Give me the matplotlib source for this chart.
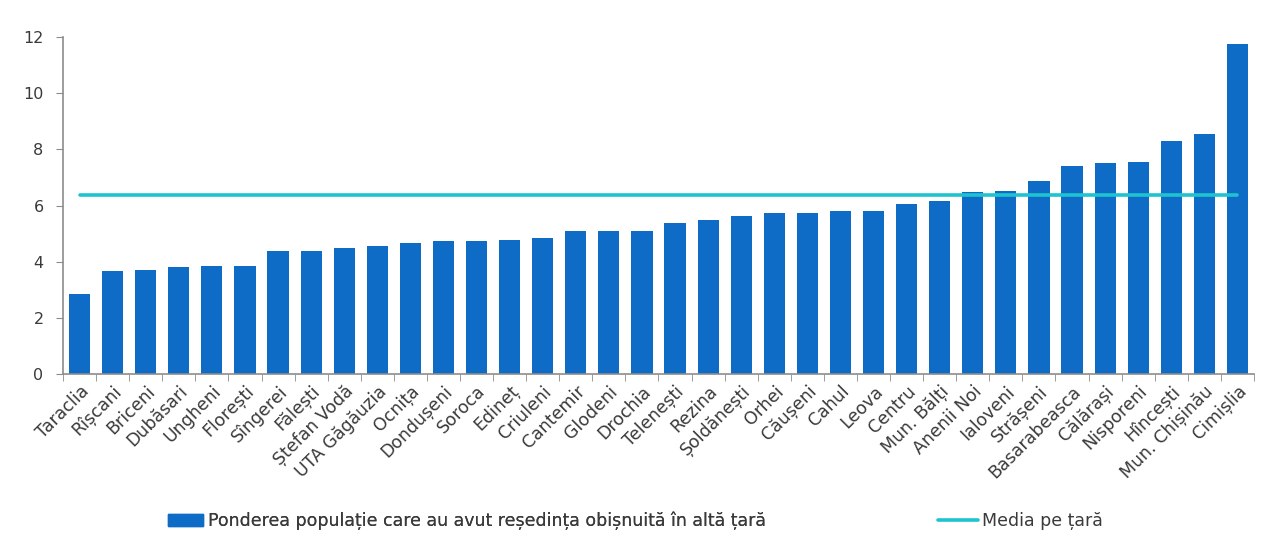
import matplotlib
matplotlib.use("Agg")
import matplotlib.pyplot as plt
from matplotlib.patches import Patch
from matplotlib.lines import Line2D
import numpy as np

categories = ["Taraclia", "Rîșcani", "Briceni", "Dubăsari", "Ungheni", "Florești",
              "Sîngerei", "Fălești", "Ștefan Vodă", "UTA Găgăuzia", "Ocnița",
              "Dondușeni", "Soroca", "Edineț", "Criuleni", "Cantemir", "Glodeni",
              "Drochia", "Telenești", "Rezina", "Șoldănești", "Orhei", "Căușeni",
              "Cahul", "Leova", "Centru", "Mun. Bălți", "Anenii Noi", "Ialoveni",
              "Strășeni", "Basarabeasca", "Călărași", "Nisporeni", "Hîncești",
              "Mun. Chișinău", "Cimișlia"]
values = [2.85, 3.66, 3.71, 3.81, 3.86, 3.86, 4.39, 4.39, 4.50, 4.56, 4.67,
          4.73, 4.73, 4.77, 4.83, 5.09, 5.09, 5.09, 5.37, 5.48, 5.63, 5.74, 5.74,
          5.80, 5.80, 6.06, 6.16, 6.48, 6.53, 6.86, 7.40, 7.51, 7.55, 8.31,
          8.53, 11.75]
mean_value = 6.37
yticks = [0, 2, 4, 6, 8, 10, 12]

bar_label = "Ponderea populație care au avut reședința obișnuită în altă țară"
line_label = "Media pe țară"

bar_color = "#0F6CC6"
line_color = "#1FC3D0"
axis_color = "#8C8C8C"
text_color = "#3A3A3A"

plt.rcParams['font.family'] = ['DejaVu Sans']

fig = plt.figure(figsize=(12.8, 5.54), dpi=100)
ax = fig.add_axes([63/1280, 1-374/554, (1254-63)/1280, (374-37)/554])

x = np.arange(len(categories))
ax.bar(x, values, width=0.64, color=bar_color, zorder=2)
ax.plot([x[0], x[-1]], [mean_value, mean_value], color=line_color, lw=2.6,
        solid_capstyle='round', zorder=3)

ax.set_xlim(-0.5, len(categories) - 0.5)
ax.set_ylim(0, 12)
ax.set_yticks(yticks)
ax.set_yticklabels([str(v) for v in yticks], fontsize=11.5, color=text_color)

ax.set_xticks(x)
ax.set_xticklabels(categories, rotation=45, ha='right', rotation_mode='anchor',
                   fontsize=12.5, color=text_color)
ax.tick_params(axis='x', which='major', length=0, pad=6)
ax.set_xticks(np.arange(-0.5, len(categories), 1.0), minor=True)
ax.tick_params(axis='x', which='minor', length=5, color=axis_color, direction='out')
ax.tick_params(axis='y', length=5, color=axis_color, direction='out', pad=9)

for s in ['top', 'right']:
    ax.spines[s].set_visible(False)
for s in ['left', 'bottom']:
    ax.spines[s].set_color(axis_color)
    ax.spines[s].set_linewidth(1.2)

leg_y = 1 - 521/554
h1 = Patch(facecolor=bar_color, edgecolor=bar_color)
h2 = Line2D([0], [0], color=line_color, lw=2.6, solid_capstyle='round')
l1 = fig.legend([h1], [bar_label], loc='center left', bbox_to_anchor=(168/1280, leg_y),
                frameon=False, handlelength=2.0, handleheight=0.7,
                handletextpad=0.3, borderaxespad=0, borderpad=0,
                prop={'family': ['DejaVu Sans'], 'size': 12.5})
for t in l1.get_texts():
    t.set_color(text_color)
l2 = fig.legend([h2], [line_label], loc='center left', bbox_to_anchor=(938/1280, leg_y),
                frameon=False, handlelength=2.3, handletextpad=0.25,
                borderaxespad=0, borderpad=0,
                prop={'family': ['DejaVu Sans'], 'size': 12.5})
for t in l2.get_texts():
    t.set_color(text_color)
fig.add_artist(l1)

fig.savefig("out.png", dpi=100, facecolor='white')
